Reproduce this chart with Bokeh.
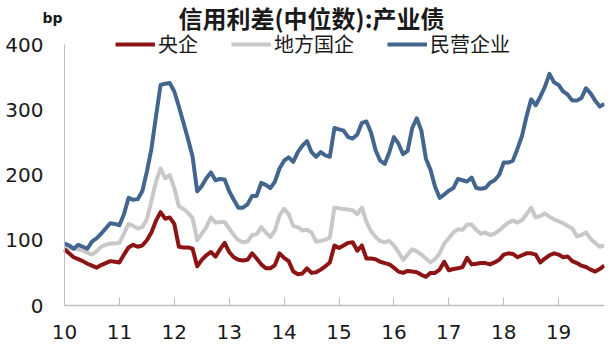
from bokeh.plotting import figure
from bokeh.models import (Range1d, FixedTicker, Legend, LegendItem, Label,
                          ColumnDataSource)
from bokeh.embed import file_html
from bokeh.resources import INLINE

# ---------------- data (monthly, Jan 2010 .. Nov 2019) ----------------
start_year = 2010
n_months = 119

soe_central = [
    86, 80, 74, 71, 68, 64, 61, 58, 62, 65, 68, 67,
    66, 78, 89, 93, 90, 92, 100, 112, 130, 143, 133, 135,
    125, 90, 89, 89, 87, 60, 70, 77, 82, 75, 86, 96,
    82, 74, 70, 69, 70, 80, 72, 63, 57, 57, 62, 80,
    73, 68, 52, 48, 49, 57, 50, 51, 55, 60, 66, 92,
    88, 92, 96, 97, 84, 92, 72, 72, 71, 67, 65, 63,
    58, 52, 50, 53, 52, 51, 47, 44, 50, 50, 55, 67,
    54, 56, 57, 59, 73, 63, 64, 65, 65, 63, 66, 70,
    78, 80, 79, 74, 77, 80, 80, 78, 66, 72, 77, 80,
    78, 74, 75, 68, 65, 61, 59, 55, 52, 56, 61,
]

soe_local = [
    89, 88, 87, 86, 84, 81, 78, 83, 90, 93, 95, 95,
    96, 110, 125, 122, 118, 120, 132, 160, 190, 210, 195, 200,
    180, 152, 148, 142, 134, 100, 110, 120, 135, 127, 128, 128,
    118, 108, 100, 97, 98, 108, 109, 120, 112, 105, 115, 138,
    148, 140, 122, 120, 115, 116, 112, 98, 99, 101, 104, 150,
    149, 148, 147, 146, 140, 150, 128, 114, 105, 99, 97, 99,
    92, 82, 70, 78, 86, 83, 78, 72, 66, 71, 80, 95,
    103, 112, 117, 116, 124, 124, 116, 110, 112, 108, 110, 115,
    121, 127, 130, 127, 131, 140, 150, 135, 137, 141, 136, 132,
    129, 126, 122, 118, 106, 108, 112, 102, 96, 90, 92,
]

private = [
    95, 92, 87, 93, 90, 87, 98, 103, 110, 118, 126, 125,
    123, 140, 165, 162, 163, 175, 205, 240, 290, 338, 340, 341,
    328, 305, 280, 255, 228, 175, 183, 195, 204, 192, 194, 193,
    175, 162, 150, 150, 155, 168, 168, 188, 185, 180, 190, 210,
    222, 227, 220, 235, 245, 252, 235, 228, 235, 230, 228, 272,
    270, 268, 258, 256, 262, 280, 282, 265, 238, 222, 217, 235,
    258, 248, 232, 237, 272, 287, 268, 225, 208, 182, 165, 170,
    176, 180, 194, 192, 190, 196, 180, 179, 180, 188, 192, 200,
    219, 219, 222, 240, 260, 290, 316, 307, 320, 335, 355, 342,
    338, 328, 323, 314, 314, 318, 333, 325, 314, 305, 309,
]

series_names = ["央企", "地方国企", "民营企业"]
tick_years = [2010, 2011, 2012, 2013, 2014, 2015, 2016, 2017, 2018, 2019]
tick_labels = ["10", "11", "12", "13", "14", "15", "16", "17", "18", "19"]
y_ticks = [0, 100, 200, 300, 400]
title_text = "信用利差(中位数):产业债"
unit_text = "bp"

# ---------------- styling ----------------
RED = "#8C1414"
GRAY = "#C8C8C8"
BLUE = "#43668F"
AXIS = "#BFBFBF"
CJK = "Noto Sans CJK SC"
NUM = "DejaVu Sans"

x = [start_year + i / 12.0 for i in range(n_months)]
src = ColumnDataSource(dict(x=x, central=soe_central, local=soe_local, private=private))

W, H = 614, 352
px_per_bp = 261.0 / 400.0
zero_px = 305           # screen y of value 0
y_start = -(H - zero_px) / px_per_bp
y_end = zero_px / px_per_bp
px_per_year = 54.9
axis_px = 64            # screen x of the y axis
frame_w = 604
x_start = start_year - axis_px / px_per_year
x_end = start_year + (frame_w - axis_px) / px_per_year

p = figure(width=W, height=H, output_backend="svg", toolbar_location=None,
           x_range=Range1d(x_start, x_end), y_range=Range1d(y_start, y_end),
           min_border_left=0, min_border_right=W - frame_w, min_border_top=0,
           min_border_bottom=0)
p.outline_line_color = None
p.background_fill_color = "white"
p.border_fill_color = "white"
p.xgrid.visible = False
p.ygrid.visible = False

r_local = p.line("x", "local", source=src, color=GRAY, line_width=4, line_join="round")
r_central = p.line("x", "central", source=src, color=RED, line_width=4, line_join="round")
r_private = p.line("x", "private", source=src, color=BLUE, line_width=4, line_join="round")

# x axis, drawn at y = 0 inside the frame
xa = p.xaxis[0]
xa.ticker = FixedTicker(ticks=tick_years)
xa.major_label_overrides = {t: l for t, l in zip(tick_years, tick_labels)}
xa.bounds = (start_year, x_end)
xa.fixed_location = 0
xa.minor_tick_line_color = None
xa.major_tick_in = 8
xa.major_tick_out = 0
xa.major_tick_line_color = AXIS
xa.axis_line_color = AXIS
xa.axis_line_width = 1.5
xa.major_label_standoff = 19
xa.major_label_text_font = NUM
xa.major_label_text_font_size = "20px"
xa.major_label_text_color = "#1A1A1A"

# y axis, drawn at x = 2010 inside the frame
ya = p.yaxis[0]
ya.ticker = FixedTicker(ticks=y_ticks)
ya.bounds = (0, 400)
ya.fixed_location = start_year
ya.minor_tick_line_color = None
ya.major_tick_in = 0
ya.major_tick_out = 0
ya.axis_line_color = AXIS
ya.axis_line_width = 1
ya.major_label_standoff = 21
ya.major_label_text_font = NUM
ya.major_label_text_font_size = "20px"
ya.major_label_text_color = "#1A1A1A"

# title and unit
p.add_layout(Label(x=start_year + (311 - axis_px) / px_per_year, y=(zero_px - 17) / px_per_bp,
                   text=title_text, text_font=CJK, text_font_size="24px",
                   text_font_style="bold", text_align="center",
                   text_baseline="middle", text_color="#1A1A1A"))
p.add_layout(Label(x=start_year - (axis_px - 42) / px_per_year, y=(zero_px - 17) / px_per_bp,
                   text=unit_text, text_font=NUM, text_font_size="14px",
                   text_font_style="bold", text_align="left",
                   text_baseline="middle", text_color="#1A1A1A"))

legend = Legend(items=[LegendItem(label=series_names[0], renderers=[r_central]),
                       LegendItem(label=series_names[1], renderers=[r_local]),
                       LegendItem(label=series_names[2], renderers=[r_private])],
                orientation="horizontal", location=(115, H - 58),
                glyph_width=40, glyph_height=20, label_height=20,
                label_standoff=3, spacing=33, padding=0, margin=0,
                border_line_color=None, background_fill_alpha=0,
                label_text_font=CJK, label_text_font_size="20px",
                label_text_color="#1A1A1A")
p.add_layout(legend)

open("out.html", "w").write(file_html(p, INLINE))
